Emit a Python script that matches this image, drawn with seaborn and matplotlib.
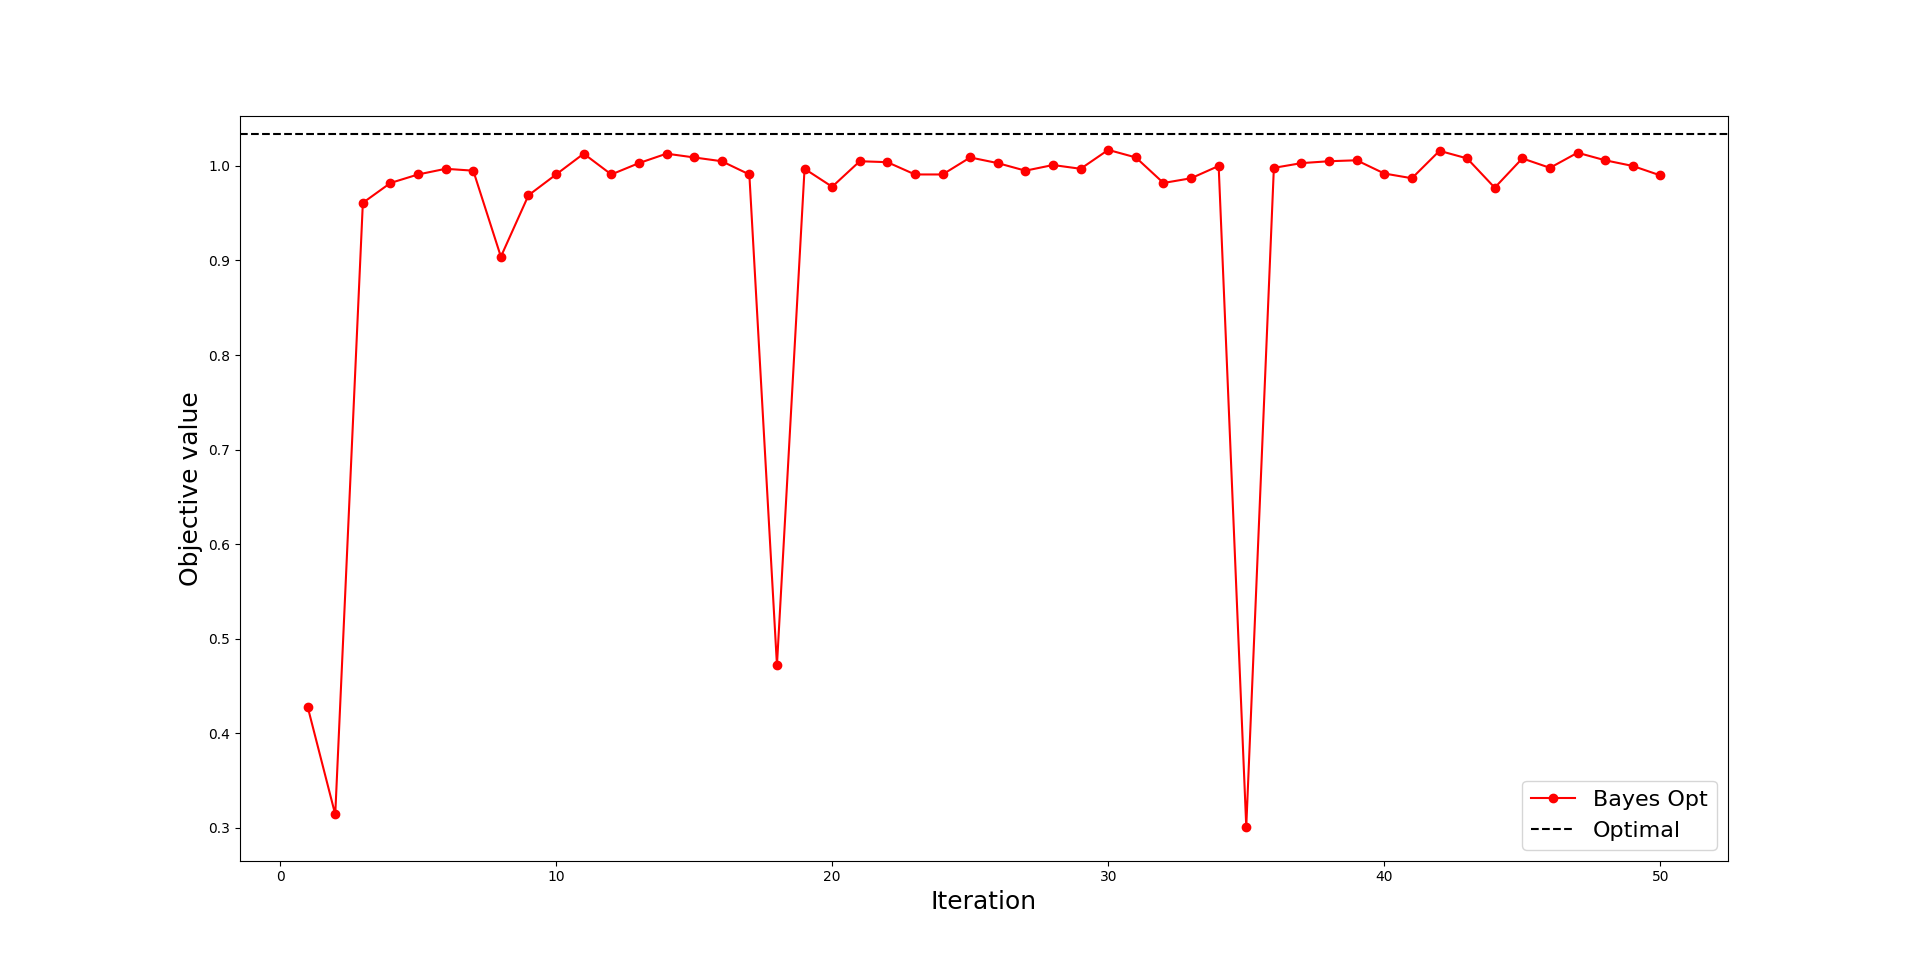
import numpy as np
import seaborn as sns
import matplotlib.pyplot as plt

# Objective values per iteration
iterations = list(range(1, 51))
objective = [
    0.428, 0.314, 0.961, 0.982, 0.991, 0.997, 0.995, 0.904, 0.969, 0.991,
    1.013, 0.991, 1.003, 1.013, 1.009, 1.005, 0.991, 0.472, 0.997, 0.978,
    1.005, 1.004, 0.991, 0.991, 1.009, 1.003, 0.995, 1.001, 0.997, 1.017,
    1.009, 0.982, 0.987, 1.000, 0.301, 0.998, 1.003, 1.005, 1.006, 0.992,
    0.987, 1.016, 1.008, 0.977, 1.008, 0.998, 1.014, 1.006, 1.000, 0.990,
]
optimal_value = 1.0336

fig, ax = plt.subplots(figsize=(19.2, 9.67), dpi=100)

sns.lineplot(x=iterations, y=objective, color='red', marker='o',
             markersize=6, markeredgecolor='red', markeredgewidth=1,
             linewidth=1.5, label='Bayes Opt', ax=ax)
ax.axhline(optimal_value, color='black', linestyle='--', linewidth=1.5,
           label='Optimal')

ax.set_xlabel('Iteration', fontsize=18)
ax.set_ylabel('Objective value', fontsize=18)
ax.legend(loc='lower right', fontsize=16)

plt.savefig('out.png', dpi=100)
plt.close()
